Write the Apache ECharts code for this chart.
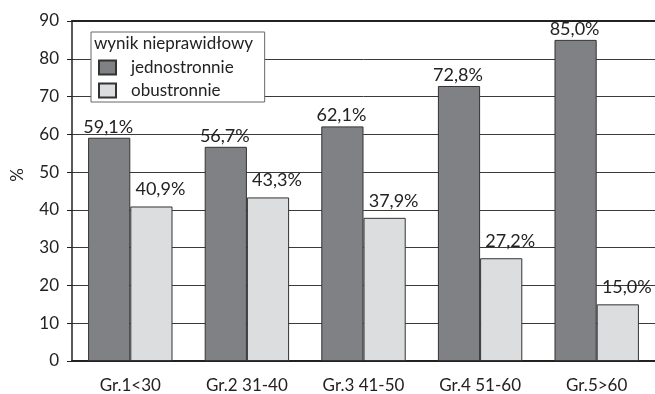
<!DOCTYPE html>
<html>
<head>
<meta charset="utf-8">
<script src="https://cdn.jsdelivr.net/npm/echarts@6/dist/echarts.min.js"></script>
<style>
  html, body { margin: 0; padding: 0; background: #fff; }
  #chart { width: 655px; height: 394px; }
</style>
</head>
<body>
<div id="chart"></div>
<script>
// Age groups and share of abnormal results (%)
const categories = ['Gr.1<30', 'Gr.2 31-40', 'Gr.3 41-50', 'Gr.4 51-60', 'Gr.5>60'];
const oneSided = [59.1, 56.7, 62.1, 72.8, 85.0];
const bothSided = [40.9, 43.3, 37.9, 27.2, 15.0];
const seriesNames = ['jednostronnie', 'obustronnie'];
const legendTitle = 'wynik nieprawidłowy';
const yTicks = { min: 0, max: 90, interval: 10 };

const FONT = 'Lato, "Open Sans", sans-serif';
const fmt = v => v.toFixed(1).replace('.', ',') + '%';

const chart = echarts.init(document.getElementById('chart'), null, { renderer: 'canvas' });

chart.setOption({
  animation: false,
  backgroundColor: '#ffffff',
  textStyle: { fontFamily: FONT, color: '#222' },
  grid: { left: 72, top: 21, width: 594, height: 341, containLabel: false },
  title: {
    text: legendTitle,
    left: 94, top: 35,
    padding: 0,
    z: 20,
    textStyle: { fontFamily: FONT, fontSize: 17, fontWeight: 'normal', color: '#222' }
  },
  legend: {
    data: seriesNames,
    orient: 'vertical',
    left: 91, top: 32,
    padding: [27, 31, 3, 7],
    backgroundColor: '#ffffff',
    borderColor: '#666',
    borderWidth: 1,
    icon: 'rect',
    itemWidth: 17, itemHeight: 14, itemGap: 6,
    selectedMode: false,
    textStyle: { fontFamily: FONT, fontSize: 17, color: '#222', padding: [0, 0, 0, 10] },
    z: 10
  },
  xAxis: [
    {
      type: 'category',
      data: categories,
      axisLine: { lineStyle: { color: '#222', width: 2 } },
      axisTick: { show: false },
      axisLabel: { fontFamily: FONT, fontSize: 17, color: '#222', margin: 16 }
    },
    {
      type: 'category',
      data: categories,
      position: 'top',
      axisLine: { lineStyle: { color: '#222', width: 2 } },
      axisTick: { show: false },
      axisLabel: { show: false }
    }
  ],
  yAxis: {
    type: 'value',
    min: yTicks.min, max: yTicks.max, interval: yTicks.interval,
    axisLine: { show: true, lineStyle: { color: '#222', width: 1.5 } },
    axisTick: { show: true, inside: false, length: 5, lineStyle: { color: '#222' } },
    axisLabel: { fontFamily: FONT, fontSize: 17, color: '#222', margin: 13 },
    splitLine: { show: true, lineStyle: { color: '#3a3a3a', width: 1 } }
  },
  graphic: [
    {
      type: 'text',
      x: 18, y: 175,
      rotation: Math.PI / 2,
      style: { text: '%', fontFamily: FONT, fontSize: 17, fill: '#222', textAlign: 'center', textVerticalAlign: 'middle' }
    }
  ],
  series: [
    {
      name: seriesNames[0],
      type: 'bar',
      data: oneSided,
      barGap: '0%',
      barCategoryGap: '27.6%',
      itemStyle: { color: '#808184', borderColor: '#333', borderWidth: 1 },
      label: {
        show: true, position: 'top', distance: 2, offset: [-1, 0],
        formatter: p => fmt(p.value),
        fontFamily: FONT, fontSize: 18, color: '#222'
      }
    },
    {
      name: seriesNames[1],
      type: 'bar',
      data: bothSided,
      itemStyle: { color: '#dcdddf', borderColor: '#333', borderWidth: 1 },
      label: {
        show: true, position: 'top', distance: 8, offset: [9, 0],
        formatter: p => fmt(p.value),
        fontFamily: FONT, fontSize: 18, color: '#222'
      }
    }
  ]
});
</script>
</body>
</html>
